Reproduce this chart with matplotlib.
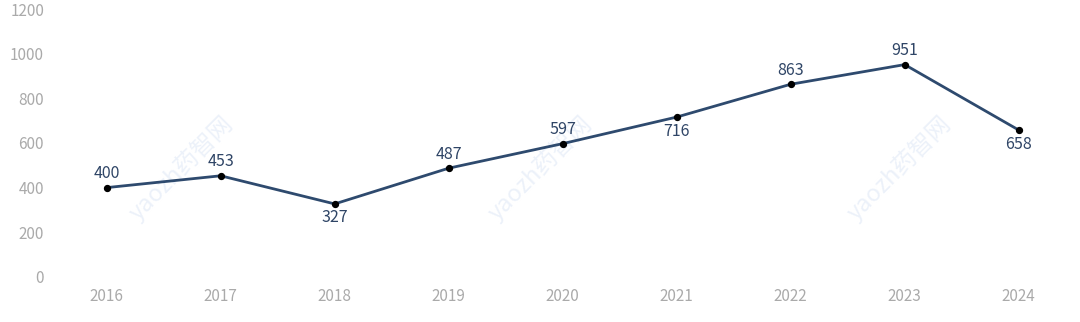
import matplotlib.pyplot as plt
import numpy as np

years = ['2016', '2017', '2018', '2019', '2020', '2021', '2022', '2023', '2024']
values = [400, 453, 327, 487, 597, 716, 863, 951, 658]
# which labels go under the point
below = [False, False, True, False, False, True, False, False, True]

plt.rcParams['font.family'] = ['Noto Sans CJK SC', 'DejaVu Sans']

fig = plt.figure(figsize=(10.8, 3.22), dpi=100)
ax = fig.add_axes([0.046, 0.14, 0.95, 0.832])

x = np.arange(len(years))
ax.plot(x, values, color='#2e4a6e', lw=2, zorder=3)
ax.scatter(x, values, color='black', s=18, zorder=4)

for xi, v, b in zip(x, values, below):
    if b:
        ax.annotate(str(v), (xi, v), xytext=(0, -4), textcoords='offset points',
                    ha='center', va='top', fontsize=11.5, color='#2f4566')
    else:
        ax.annotate(str(v), (xi, v), xytext=(0, 4), textcoords='offset points',
                    ha='center', va='bottom', fontsize=11.5, color='#2f4566')

# watermark
for wx in [0.65, 3.8, 6.95]:
    ax.text(wx, 490, 'yaozh药智网', rotation=45, fontsize=17, color='#c9d8f0',
            alpha=0.35, ha='center', va='center', zorder=1)

ax.set_xlim(-0.5, len(years) - 0.5)
ax.set_ylim(0, 1200)
ax.set_yticks(range(0, 1201, 200))
ax.set_xticks(x)
ax.set_xticklabels(years)
ax.tick_params(axis='both', length=0, labelsize=11, labelcolor='#aaaaaa')
ax.tick_params(axis='y', pad=4)
ax.tick_params(axis='x', pad=8)
for s in ax.spines.values():
    s.set_visible(False)

fig.savefig('out.png', dpi=100)
